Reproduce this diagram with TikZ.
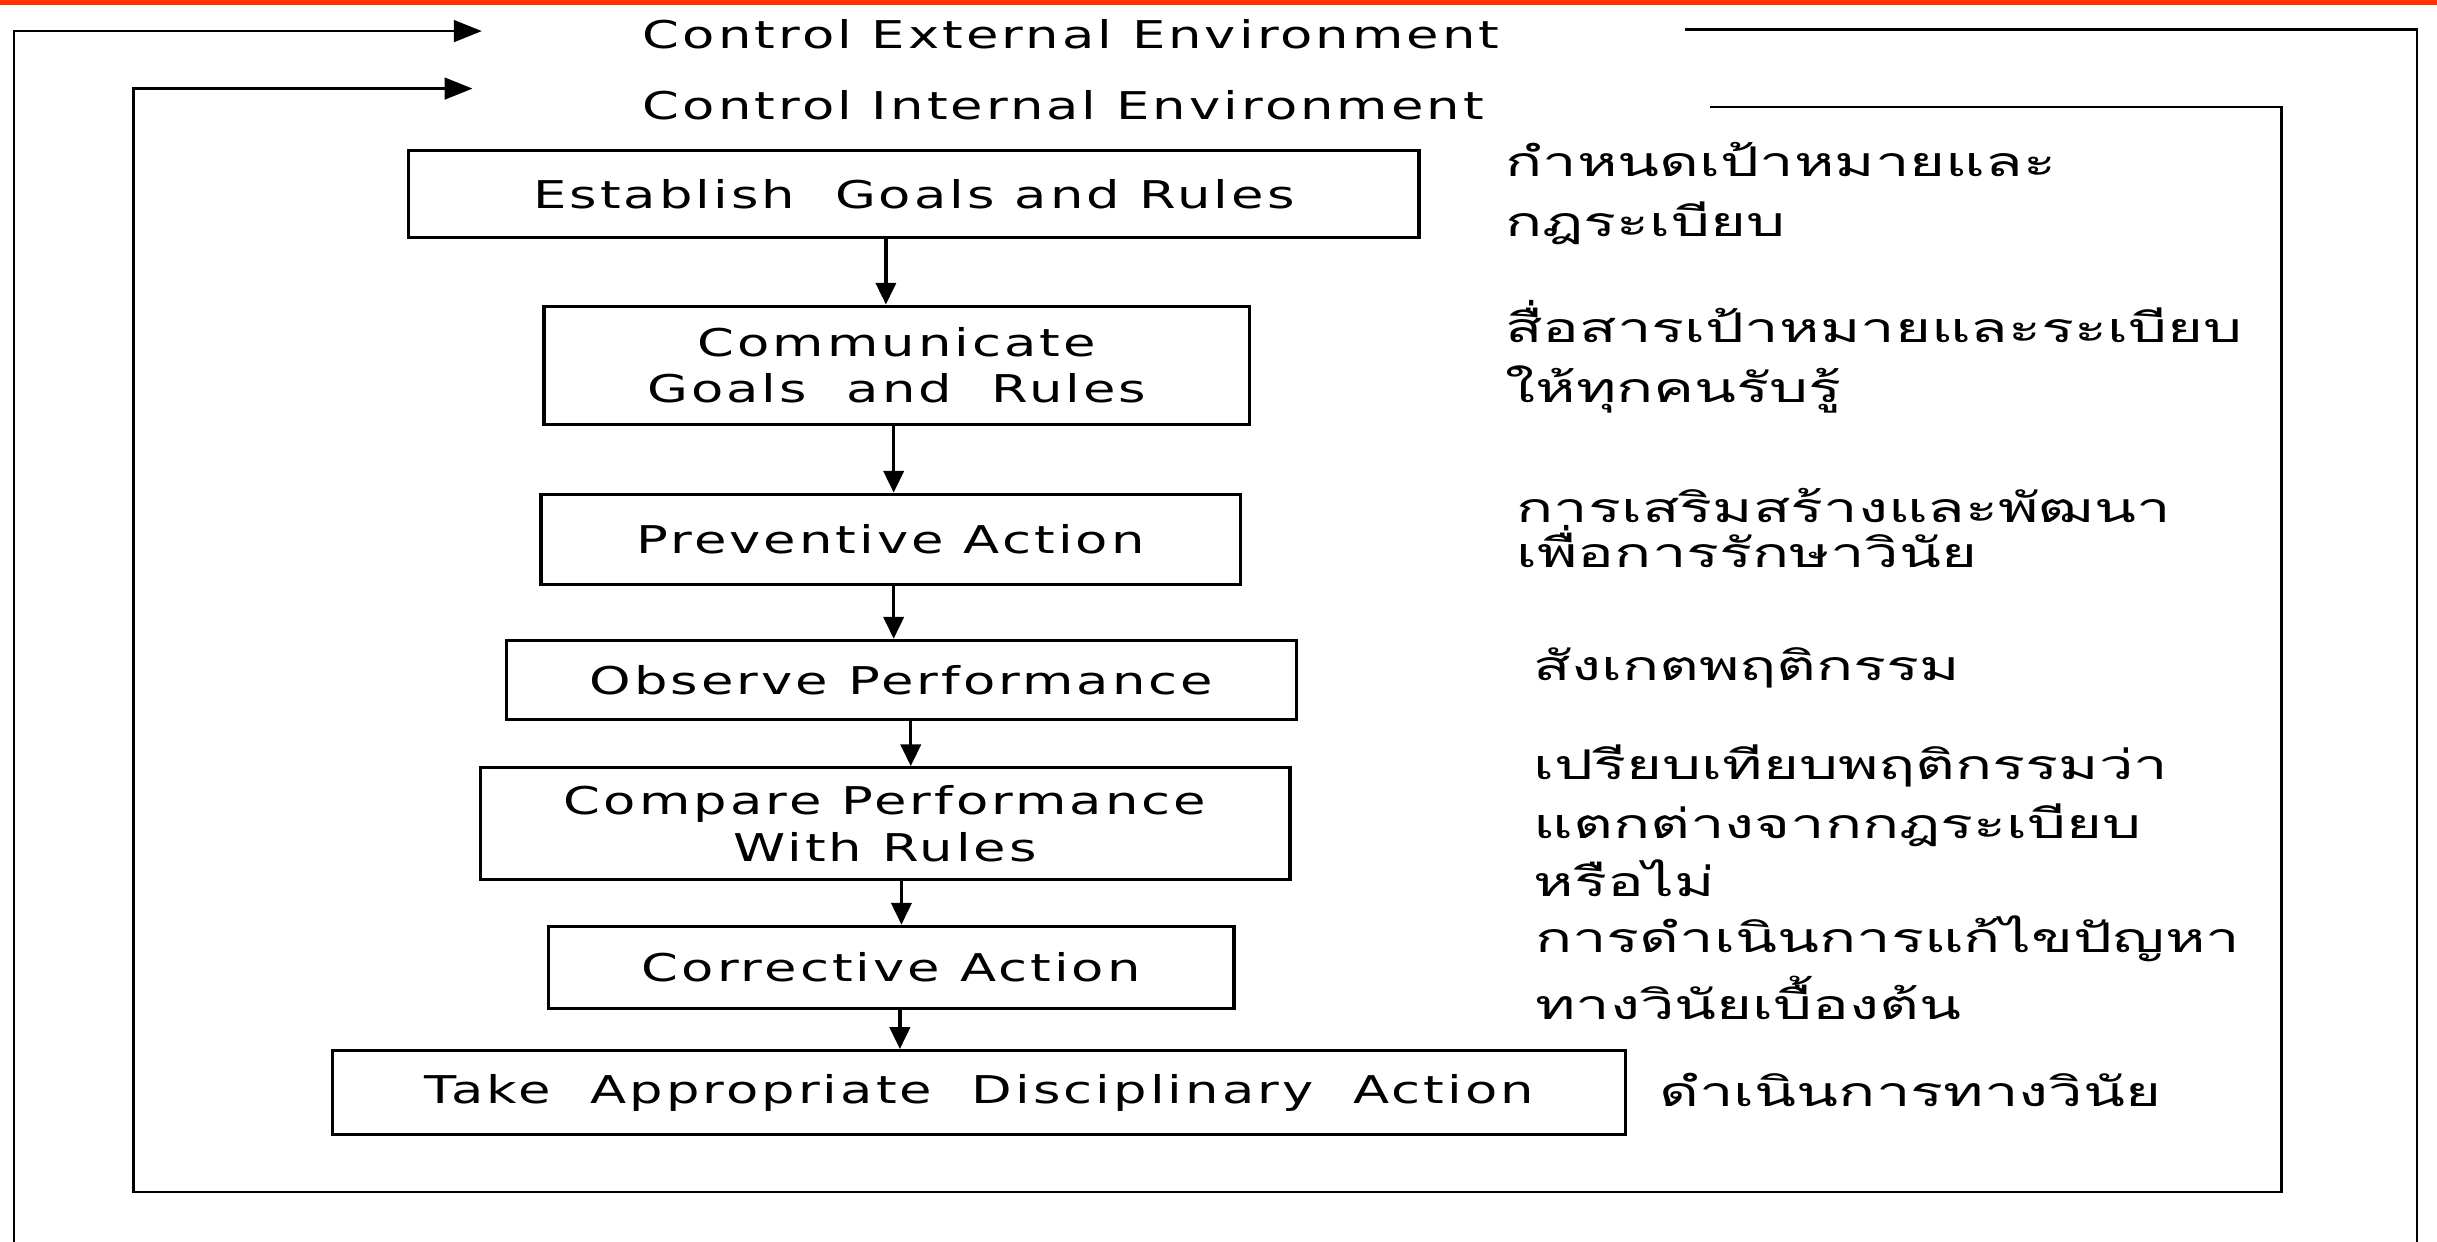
\documentclass[tikz,border=0pt]{standalone}
\usepackage{fontspec}
\setmainfont{DejaVu Sans}[FakeStretch=1.38,LetterSpace=8]
\newfontfamily\thaifont[Script=Thai,FakeStretch=1.5]{Loma}
\usetikzlibrary{arrows.meta}
\definecolor{topred}{RGB}{255,51,0}

\begin{document}
\begin{tikzpicture}[
    x=0.1mm, y=-0.1mm,
    >={Triangle[length=1.4mm,width=1.3mm]},
    stage/.style={draw,line width=0.6pt,inner sep=0pt,align=center,font=\fontsize{7}{8.6}\selectfont},
    frame line/.style={line width=0.45pt},
    env arrow/.style={frame line,-{Triangle[length=1.8mm,width=1.4mm]}},
    flow/.style={->,line width=0.6pt},
    env label/.style={anchor=west,inner sep=0pt,font=\fontsize{7}{8}\selectfont},
    thai note/.style={anchor=base west,align=left,inner sep=0pt,font=\thaifont\fontsize{7.5}{#1}\selectfont},
    thai note/.default=11pt
]
\useasboundingbox (0,0) rectangle (1568,799);

% Red rule along the top edge
\fill[topred] (0,0) rectangle (1568,3.5);

% Environment labels
\node[env label] (ext) at (413,22) {Control External Environment};
\node[env label] (int) at (413,68) {Control Internal Environment};

% Process stages
\node[stage,minimum width=65mm,minimum height=5.6mm] (goals) at (588,125) {Establish\ \ Goals and Rules};
\node[stage,minimum width=45.4mm,minimum height=7.6mm] (comm) at (577,235) {Communicate\\Goals\ \ and\ \ Rules};
\node[stage,minimum width=45mm,minimum height=5.8mm] (prev) at (573,347) {Preventive Action};
\node[stage,minimum width=50.8mm,minimum height=5.1mm] (obs) at (580,437.5) {Observe Performance};
\node[stage,minimum width=52.1mm,minimum height=7.2mm] (comp) at (569.5,530) {Compare Performance\\With Rules};
\node[stage,minimum width=44.1mm,minimum height=5.3mm] (corr) at (573.5,622.5) {Corrective Action};
\node[stage,minimum width=83.2mm,minimum height=5.4mm] (take) at (630,703) {Take\ \ Appropriate\ \ Disciplinary\ \ Action};

% Arrows between stages
\foreach \a/\b/\x in {goals/comm/570, comm/prev/575, prev/obs/575, obs/comp/586, comp/corr/580, corr/take/579}{
    \coordinate (ax) at (\x,0);
    \draw[flow] (\a.south -| ax) -- (\b.north -| ax);
}

% Thai notes (placed at the baseline of the last line)
\node[thai note] (n1) at (968,152) {กำหนดเป้าหมายและ\\กฎระเบียบ};
\node[thai note] (n2) at (968,259) {สื่อสารเป้าหมายและระเบียบ\\ให้ทุกคนรับรู้};
\node[thai note=8.2pt] (n3) at (975,365) {การเสริมสร้างและพัฒนา\\เพื่อการรักษาวินัย};
\node[thai note] (n4) at (986,438) {สังเกตพฤติกรรม};
\node[thai note=10.7pt] (n5) at (986,577) {เปรียบเทียบพฤติกรรมว่า\\แตกต่างจากกฎระเบียบ\\หรือไม่};
\node[thai note=12.2pt] (n6) at (987,656) {การดำเนินการแก้ไขปัญหา\\ทางวินัยเบื้องต้น};
\node[thai note] (n7) at (1067,712) {ดำเนินการทางวินัย};

% Outer frame (external environment)
\coordinate (oBL) at (9,799);
\coordinate (oTL) at (9,20);
\coordinate (oTip) at (310,20);
\coordinate (oTR0) at (1084,19);
\coordinate (oTR) at (1555,19);
\coordinate (oBR) at (1555,799);
\draw[env arrow] (oBL) -- (oTL) -- (oTip);
\draw[frame line] (oTR0) -- (oTR) -- (oBR);

% Inner frame (internal environment)
\coordinate (iTip) at (304,57);
\coordinate (iTL) at (86,57);
\coordinate (iBL) at (86,767);
\coordinate (iBR) at (1468,767);
\coordinate (iTR) at (1468,69);
\coordinate (iTR0) at (1100,69);
\draw[env arrow] (iTR0) -- (iTR) -- (iBR) -- (iBL) -- (iTL) -- (iTip);

\end{tikzpicture}
\end{document}
